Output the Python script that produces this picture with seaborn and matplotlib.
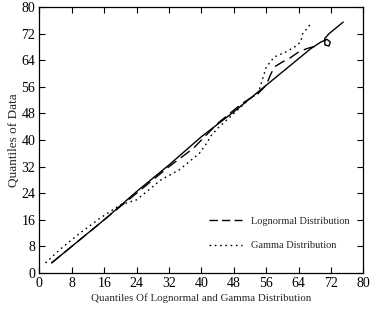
import matplotlib
matplotlib.use("Agg")
import matplotlib.pyplot as plt
import seaborn as sns
import pandas as pd

# Q-Q curves: quantiles of the data against fitted distribution quantiles
ref_x = [3, 8, 16, 24, 32, 40, 48, 56, 62, 67, 69.5, 71, 71.8, 71.5, 70.5, 70.4, 71.5, 73, 75]
ref_y = [3, 8, 16, 24.5, 32.5, 41, 48.5, 56.5, 62.5, 67.5, 69.5, 70.3, 69.5, 68.3, 68.6, 70.5, 72, 73.5, 75.5]

logn_x = [3, 8, 16, 24, 32, 38, 44, 50, 54, 56, 57, 58, 60, 62, 64, 66, 68]
logn_y = [3, 8, 16, 24, 32, 37.5, 45, 51, 54, 56.5, 59.5, 62, 63.5, 64.8, 66.5, 67.5, 68.2]

gamma_x = [1.5, 5, 10, 15, 20, 24, 30, 34.5, 39.5, 41, 42.5, 44, 48, 52, 54, 55, 56, 58, 61, 63, 64.5, 65, 66.8]
gamma_y = [3, 7, 12, 16.5, 20.5, 22, 28, 31, 36, 38.5, 41.5, 43.5, 48, 52.5, 54, 58, 62, 65, 66.6, 68, 69.5, 72, 74.7]

ticks = [0, 8, 16, 24, 32, 40, 48, 56, 64, 72, 80]

sns.set_style("ticks")
plt.rcParams["font.family"] = ["Liberation Serif", "DejaVu Serif"]

fig = plt.figure(figsize=(3.79, 3.23), dpi=100)
ax = fig.add_axes([0.104, 0.155, 0.855, 0.823])

ref = pd.DataFrame({"x": ref_x, "y": ref_y})
logn = pd.DataFrame({"x": logn_x, "y": logn_y})
gam = pd.DataFrame({"x": gamma_x, "y": gamma_y})

sns.lineplot(data=ref, x="x", y="y", sort=False, estimator=None, ax=ax,
             color="black", lw=1.0)
sns.lineplot(data=logn, x="x", y="y", sort=False, estimator=None, ax=ax,
             color="black", lw=1.0, label="Lognormal Distribution")
sns.lineplot(data=gam, x="x", y="y", sort=False, estimator=None, ax=ax,
             color="black", lw=1.0, label="Gamma Distribution")
ax.lines[1].set_linestyle((0, (8, 4)))
ax.lines[2].set_linestyle((0, (1.2, 2.6)))

ax.set_xlim(0, 80)
ax.set_ylim(0, 80)
ax.set_xticks(ticks)
ax.set_yticks(ticks)
ax.tick_params(direction="in", top=True, right=True, length=4, width=0.8,
               labelsize=10, colors="black", pad=3)
for s in ax.spines.values():
    s.set_linewidth(0.9)
    s.set_color("black")

ax.set_xlabel("Quantiles Of Lognormal and Gamma Distribution", fontsize=7.8, labelpad=2)
ax.set_ylabel("Quantiles of Data", fontsize=9.5, labelpad=1)

leg = ax.legend(loc="lower right", bbox_to_anchor=(0.985, 0.05), frameon=False,
                fontsize=7.5, handlelength=3.2, labelspacing=1.45, handletextpad=0.8)
for h, ls in zip(leg.get_lines(), [(0, (6, 3)), (0, (1.2, 2.6))]):
    h.set_linestyle(ls)

fig.savefig("out.png", dpi=100)
